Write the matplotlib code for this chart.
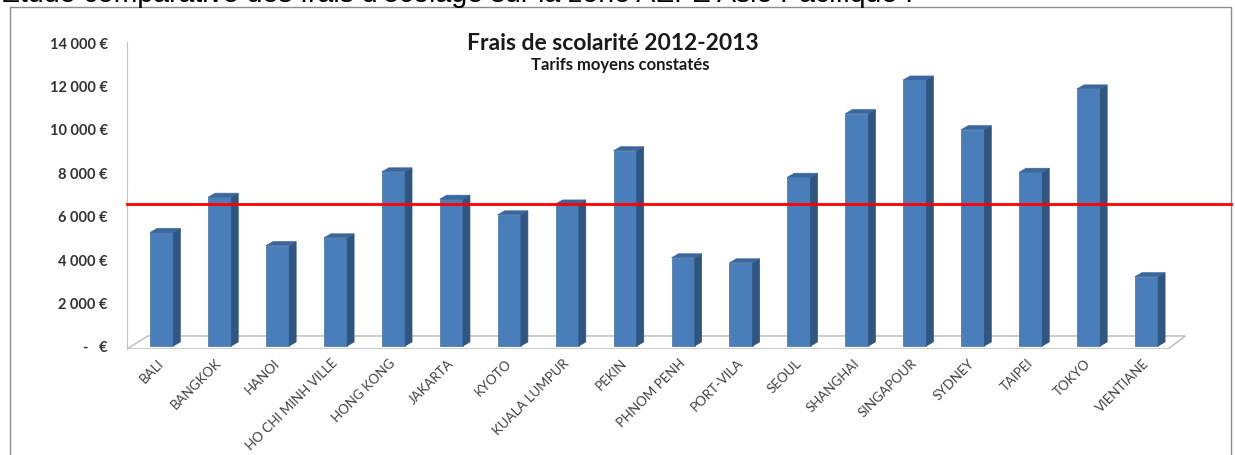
import numpy as np
import matplotlib.pyplot as plt
from matplotlib.patches import Polygon, Rectangle

# données
villes = ["BALI", "BANGKOK", "HANOI", "HO CHI MINH VILLE", "HONG KONG", "JAKARTA",
          "KYOTO", "KUALA LUMPUR", "PEKIN", "PHNOM PENH", "PORT-VILA", "SEOUL",
          "SHANGHAI", "SINGAPOUR", "SYDNEY", "TAIPEI", "TOKYO", "VIENTIANE"]
frais = [5230, 6850, 4620, 4980, 8020, 6760, 6040, 6540, 8990, 4060, 3830, 7770,
         10700, 12250, 9960, 8000, 11840, 3190]
moyenne = 6560
graduations = [0, 2000, 4000, 6000, 8000, 10000, 12000, 14000]
etiquettes_y = ["-   €", "2 000 €", "4 000 €", "6 000 €", "8 000 €", "10 000 €", "12 000 €", "14 000 €"]

titre = "Frais de scolarité 2012-2013"
sous_titre = "Tarifs moyens constatés"
entete = "Etude comparative des frais d'écolage sur la zone AEFE Asie Pacifique :"

W, H = 1235, 456
fig = plt.figure(figsize=(W / 100, H / 100), dpi=100)
fig.patch.set_facecolor("white")

# cadre du graphique (coupé en bas)
fig.patches.append(Rectangle((10 / W, -0.05), (1231 - 10) / W, 1.05 - 8 / H,
                             transform=fig.transFigure, facecolor="none",
                             edgecolor="#8c8c8c", linewidth=1.0, zorder=-1))
fig.text(1 / W, 1 - 2 / H, entete, family="Liberation Sans", fontsize=20.5,
         va="baseline", ha="left", color="black")

ax = fig.add_axes([127 / W, (H - 350) / H, (1190 - 127) / W, (350 - 43) / H])
ax.set_facecolor("none")
ax.set_xlim(-0.6, 17.75)
ax.set_ylim(-140, 14000)

x = np.arange(len(villes))
w = 0.4
dx, dy = 0.12, 185  # profondeur 3D

# sol
ax.add_patch(Polygon([(-0.6, -140), (17.37, -140), (17.67, 460), (-0.24, 460)],
                     closed=True, facecolor="white", edgecolor="#c3c3c3",
                     linewidth=1.2, zorder=1))

ax.bar(x, frais, width=w, color="#4a7ebb", edgecolor="#41719f", linewidth=0.5, zorder=3)
for xi, v in zip(x, frais):
    ax.add_patch(Polygon([(xi + w / 2, 0), (xi + w / 2 + dx, dy), (xi + w / 2 + dx, v + dy),
                          (xi + w / 2, v)], closed=True, facecolor="#2f5581",
                         edgecolor="#2f5581", linewidth=0.5, zorder=3))
    ax.add_patch(Polygon([(xi - w / 2, v), (xi + w / 2, v), (xi + w / 2 + dx, v + dy),
                          (xi - w / 2 + dx, v + dy)], closed=True, facecolor="#3b679e",
                         edgecolor="#3b679e", linewidth=0.5, zorder=3))

# ligne de la moyenne
ax.axhline(moyenne, xmin=0, xmax=1 + (1231 - 1190) / (1190 - 127), color="#ff0000",
           linewidth=2.0, clip_on=False, zorder=4)

for s in ["top", "right", "bottom"]:
    ax.spines[s].set_visible(False)
ax.spines["left"].set_color("#c3c3c3")
ax.spines["left"].set_bounds(-140, 14000)

ax.set_yticks(graduations)
ax.set_yticklabels(etiquettes_y, family="Lato", fontweight="bold", fontsize=10.5, color="#333333")
ax.set_xticks(x)
ax.set_xticklabels(villes, rotation=45, ha="right", va="center", rotation_mode="anchor",
                   family="Lato", fontsize=9.5, color="#404040")
ax.tick_params(axis="y", length=0, pad=14)
ax.tick_params(axis="x", length=0, pad=8)

fig.text(613 / W, 1 - 44 / H, titre, family="Lato", fontweight="bold", fontsize=16.5,
         ha="center", va="center", color="#1a1a1a")
fig.text(620 / W, 1 - 65 / H, sous_titre, family="Lato", fontweight="bold", fontsize=12,
         ha="center", va="center", color="#1a1a1a")

fig.savefig("out.png", dpi=100)
